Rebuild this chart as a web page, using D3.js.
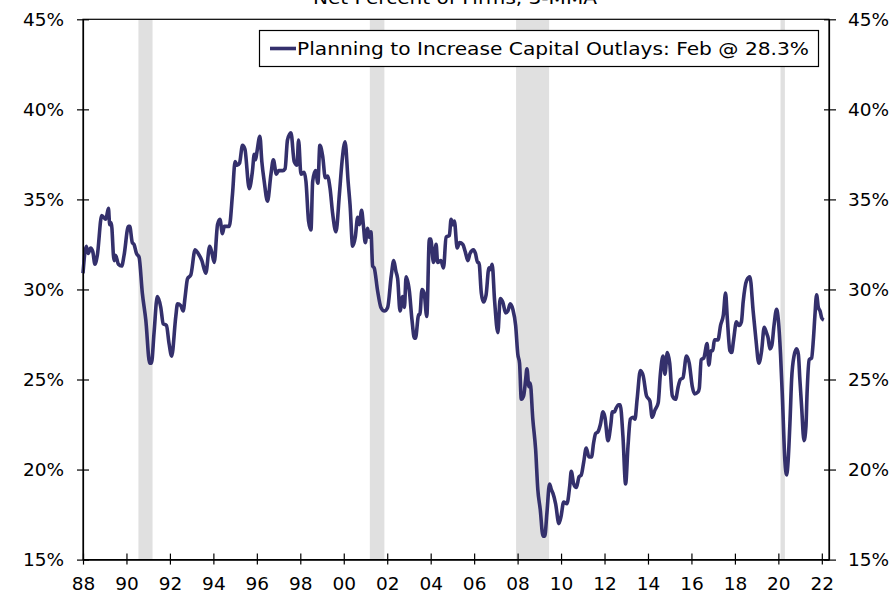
<!DOCTYPE html>
<html>
<head>
<meta charset="utf-8">
<script src="https://cdn.jsdelivr.net/npm/d3@7/dist/d3.min.js"></script>
<style>
  body { margin: 0; background: #fff; }
  svg text { font-family: "DejaVu Sans", Verdana, sans-serif; fill: #000; }
</style>
</head>
<body>
<div class="chart"></div>
<script>
// NFIB: planning to increase capital outlays, net percent of firms, 3-MMA
var dates = [
  1988.00, 1988.15, 1988.24, 1988.35, 1988.45, 1988.55, 1988.66, 1988.86, 1989.05, 1989.17,
  1989.23, 1989.30, 1989.43, 1989.50, 1989.63, 1989.78, 1989.89, 1990.09, 1990.15, 1990.27,
  1990.35, 1990.46, 1990.58, 1990.73, 1990.89, 1991.07, 1991.15, 1991.27, 1991.42, 1991.58,
  1991.69, 1991.84, 1991.96, 1992.08, 1992.27, 1992.35, 1992.50, 1992.61, 1992.70, 1992.81,
  1992.96, 1993.16, 1993.30, 1993.47, 1993.65, 1993.83, 1993.92, 1994.04, 1994.19, 1994.30,
  1994.42, 1994.50, 1994.73, 1994.88, 1995.00, 1995.10, 1995.20, 1995.34, 1995.45, 1995.65,
  1995.80, 1995.88, 1995.94, 1996.00, 1996.14, 1996.23, 1996.34, 1996.49, 1996.65, 1996.76,
  1996.90, 1997.00, 1997.20, 1997.30, 1997.41, 1997.57, 1997.72, 1997.85, 1997.92, 1998.03,
  1998.18, 1998.26, 1998.38, 1998.49, 1998.57, 1998.70, 1998.81, 1998.90, 1999.03, 1999.15,
  1999.25, 1999.37, 1999.49, 1999.64, 1999.80, 1999.92, 2000.06, 2000.20, 2000.29, 2000.41,
  2000.53, 2000.64, 2000.72, 2000.82, 2000.90, 2000.99, 2001.10, 2001.17, 2001.25, 2001.33,
  2001.40, 2001.56, 2001.71, 2001.87, 2002.02, 2002.18, 2002.30, 2002.40, 2002.48, 2002.59,
  2002.71, 2002.79, 2002.87, 2003.02, 2003.14, 2003.25, 2003.30, 2003.45, 2003.50, 2003.60,
  2003.70, 2003.82, 2003.94, 2004.00, 2004.13, 2004.25, 2004.32, 2004.47, 2004.59, 2004.71,
  2004.86, 2004.94, 2005.02, 2005.09, 2005.22, 2005.33, 2005.48, 2005.59, 2005.71, 2005.81,
  2005.97, 2006.06, 2006.16, 2006.22, 2006.33, 2006.43, 2006.55, 2006.68, 2006.75, 2006.83,
  2006.94, 2007.09, 2007.20, 2007.32, 2007.45, 2007.55, 2007.66, 2007.78, 2007.91, 2008.01,
  2008.09, 2008.17, 2008.28, 2008.37, 2008.43, 2008.52, 2008.58, 2008.70, 2008.83, 2008.93,
  2009.04, 2009.17, 2009.25, 2009.35, 2009.47, 2009.55, 2009.62, 2009.75, 2009.90, 2010.00,
  2010.12, 2010.27, 2010.40, 2010.47, 2010.58, 2010.70, 2010.83, 2010.93, 2011.04, 2011.16,
  2011.28, 2011.40, 2011.50, 2011.59, 2011.70, 2011.81, 2011.93, 2012.02, 2012.16, 2012.29,
  2012.36, 2012.46, 2012.53, 2012.65, 2012.72, 2012.85, 2012.97, 2013.08, 2013.19, 2013.31,
  2013.40, 2013.50, 2013.65, 2013.78, 2013.93, 2014.09, 2014.19, 2014.32, 2014.47, 2014.57,
  2014.69, 2014.78, 2014.89, 2015.00, 2015.12, 2015.27, 2015.39, 2015.49, 2015.61, 2015.77,
  2015.90, 2016.04, 2016.14, 2016.30, 2016.36, 2016.45, 2016.57, 2016.72, 2016.80, 2016.90,
  2016.98, 2017.06, 2017.22, 2017.34, 2017.47, 2017.57, 2017.65, 2017.77, 2017.85, 2017.94,
  2018.07, 2018.19, 2018.30, 2018.38, 2018.54, 2018.69, 2018.84, 2018.97, 2019.10, 2019.23,
  2019.35, 2019.45, 2019.53, 2019.61, 2019.70, 2019.80, 2019.92, 2020.00, 2020.10, 2020.19,
  2020.30, 2020.38, 2020.45, 2020.54, 2020.61, 2020.72, 2020.84, 2020.92, 2020.99, 2021.07,
  2021.18, 2021.27, 2021.32, 2021.42, 2021.53, 2021.61, 2021.68, 2021.76, 2021.84, 2021.92,
  2022.00, 2022.09
];

var outlays = [
  30.9, 32.4, 32.0, 32.3, 32.1, 31.4, 31.9, 34.1, 33.9, 34.5,
  33.6, 33.7, 31.6, 31.9, 31.4, 31.3, 31.9, 33.5, 33.5, 32.6,
  32.5, 32.0, 31.8, 29.8, 28.3, 25.9, 25.9, 27.6, 29.6, 29.0,
  28.1, 28.0, 27.0, 26.3, 28.5, 29.2, 29.1, 28.8, 29.6, 30.6,
  30.8, 32.2, 32.0, 31.6, 30.9, 32.4, 32.1, 31.5, 33.6, 33.9,
  33.1, 33.5, 33.5, 35.3, 37.1, 36.9, 37.0, 38.0, 37.8, 35.6,
  36.6, 37.5, 37.2, 37.6, 38.5, 37.1, 36.0, 34.9, 36.4, 37.2,
  36.4, 36.6, 36.6, 36.7, 38.3, 38.7, 37.1, 36.9, 38.3, 36.4,
  36.5, 36.0, 33.8, 33.3, 36.0, 36.6, 35.9, 38.0, 37.4, 36.2,
  36.3, 35.6, 34.2, 33.2, 35.3, 37.1, 38.2, 36.0, 34.7, 32.4,
  32.9, 34.0, 33.6, 34.4, 33.6, 32.6, 33.4, 32.9, 33.2, 31.3,
  31.2, 29.9, 29.0, 28.8, 29.0, 30.7, 31.6, 31.0, 30.6, 28.8,
  29.6, 29.0, 30.7, 29.9, 28.3, 27.3, 27.3, 28.6, 28.6, 30.0,
  29.8, 28.5, 32.8, 32.8, 31.5, 32.5, 31.5, 31.6, 31.2, 32.9,
  33.0, 33.9, 33.6, 33.8, 32.3, 32.6, 32.5, 32.1, 31.6, 32.0,
  32.2, 32.0, 31.5, 31.5, 29.8, 29.3, 29.7, 31.2, 31.1, 31.4,
  29.4, 27.6, 29.5, 29.3, 28.7, 28.8, 29.2, 28.9, 28.0, 26.4,
  25.9, 23.9, 24.1, 25.0, 25.6, 24.6, 24.8, 22.8, 21.1, 18.9,
  17.8, 16.3, 16.3, 17.6, 19.2, 18.9, 18.7, 18.1, 17.0, 17.4,
  18.2, 18.1, 19.1, 19.9, 19.2, 19.0, 19.6, 19.7, 20.4, 21.2,
  20.7, 20.7, 21.5, 22.0, 22.1, 22.5, 23.2, 22.9, 21.6, 22.5,
  23.2, 23.2, 23.4, 23.6, 23.6, 21.8, 19.2, 21.3, 22.8, 22.9,
  22.8, 23.9, 25.5, 25.2, 24.1, 23.8, 22.9, 23.3, 23.7, 25.3,
  26.3, 25.3, 26.5, 25.9, 24.1, 23.9, 24.6, 25.0, 25.1, 26.3,
  25.9, 24.6, 24.2, 24.3, 24.5, 26.1, 26.2, 27.0, 25.8, 26.6,
  26.6, 27.2, 27.2, 28.0, 28.6, 29.8, 28.4, 26.6, 26.5, 27.2,
  28.2, 28.0, 28.2, 29.3, 30.5, 30.7, 28.8, 27.2, 25.9, 26.6,
  27.9, 27.6, 27.3, 26.7, 26.9, 28.0, 28.9, 28.3, 26.4, 23.9,
  20.5, 19.7, 20.5, 22.8, 25.0, 26.3, 26.7, 26.4, 25.0, 23.5,
  21.6, 22.4, 24.2, 26.1, 26.2, 27.2, 28.5, 29.7, 29.0, 28.8,
  28.4, 28.3
];

// recession periods (start, end)
var recessions = [[1990.55, 1991.2], [2001.2, 2001.87], [2007.93, 2009.45], [2020.1, 2020.3]];

var xTickYears = d3.range(1988, 2023, 2);
var yTickValues = [15, 20, 25, 30, 35, 40, 45];
var title = "Net Percent of Firms, 3-MMA";
var legendLabel = "Planning to Increase Capital Outlays: Feb @ 28.3%";

var width = 896, height = 595;
var plotL = 83, plotR = 829, plotT = 19.3, plotB = 559.6;

var svg = d3.select(".chart").append("svg")
    .attr("width", width)
    .attr("height", height);

var x = d3.scaleLinear().domain([1988, 1988 + (plotR - plotL) / 21.73]).range([plotL, plotR]);
var y = d3.scaleLinear().domain([15, 45]).range([plotB, plotT]);

// recession shading
svg.selectAll(".rec")
  .data(recessions)
  .enter().append("rect")
    .attr("class", "rec")
    .attr("x", function(d) { return x(d[0]); })
    .attr("y", plotT)
    .attr("width", function(d) { return x(d[1]) - x(d[0]); })
    .attr("height", plotB - plotT)
    .attr("fill", "#e0e0e0");

// frame
svg.append("rect")
    .attr("x", plotL).attr("y", plotT)
    .attr("width", plotR - plotL).attr("height", plotB - plotT)
    .attr("fill", "none")
    .attr("stroke", "#000")
    .attr("stroke-width", 1.2);

// series line
var series = dates.map(function(d, i) { return [d, outlays[i]]; });
var line = d3.line()
    .x(function(d) { return x(d[0]); })
    .y(function(d) { return y(d[1]); })
    .curve(d3.curveMonotoneX);

svg.append("path")
    .datum(series)
    .attr("d", line)
    .attr("fill", "none")
    .attr("stroke", "#34306c")
    .attr("stroke-width", 3.6)
    .attr("stroke-linejoin", "round");

// axes
var yLeft = d3.axisLeft(y).tickValues(yTickValues)
    .tickSizeInner(6).tickSizeOuter(0)
    .tickFormat(function(d) { return d + "%"; });
var yRight = d3.axisRight(y).tickValues(yTickValues)
    .tickSizeInner(7).tickSizeOuter(0)
    .tickFormat(function(d) { return d + "%"; });
var xAxis = d3.axisBottom(x).tickValues(xTickYears)
    .tickSizeInner(5).tickSizeOuter(0)
    .tickFormat(function(d) { return String(d).slice(2); });

function styleAxis(g) {
  g.select(".domain").attr("stroke", "#000").attr("stroke-width", 1.2);
  g.selectAll(".tick line").attr("stroke", "#000").attr("stroke-width", 1.2);
  g.selectAll(".tick text")
      .attr("font-size", 18.5)
      .attr("font-family", "DejaVu Sans, Verdana, sans-serif")
      .attr("fill", "#000");
}

var gl = svg.append("g").attr("transform", "translate(" + plotL + ",0)").call(yLeft);
styleAxis(gl);
gl.selectAll(".tick line").attr("x1", 6);
gl.selectAll(".tick text").attr("x", -19);

var gr = svg.append("g").attr("transform", "translate(" + plotR + ",0)").call(yRight);
styleAxis(gr);
gr.selectAll(".tick line").attr("x1", -5);
gr.selectAll(".tick text").attr("x", 19);

var gx = svg.append("g").attr("transform", "translate(0," + plotB + ")").call(xAxis);
styleAxis(gx);
gx.selectAll(".tick line").attr("y1", -6);
gx.selectAll(".tick text").attr("y", 17);

// title (cut off at top)
svg.append("text")
    .attr("x", 455)
    .attr("y", 4)
    .attr("text-anchor", "middle")
    .attr("font-size", 18)
    .attr("textLength", 284)
    .attr("lengthAdjust", "spacingAndGlyphs")
    .text(title);

// legend
var lg = svg.append("g");
lg.append("rect")
    .attr("x", 259.5).attr("y", 30.5)
    .attr("width", 559).attr("height", 36)
    .attr("fill", "#fff")
    .attr("stroke", "#000")
    .attr("stroke-width", 1.2);
lg.append("line")
    .attr("x1", 270).attr("x2", 296)
    .attr("y1", 48.5).attr("y2", 48.5)
    .attr("stroke", "#34306c")
    .attr("stroke-width", 3.6);
lg.append("text")
    .attr("x", 297)
    .attr("y", 54.5)
    .attr("font-size", 18)
    .attr("textLength", 512)
    .attr("lengthAdjust", "spacingAndGlyphs")
    .text(legendLabel);
</script>
</body>
</html>
